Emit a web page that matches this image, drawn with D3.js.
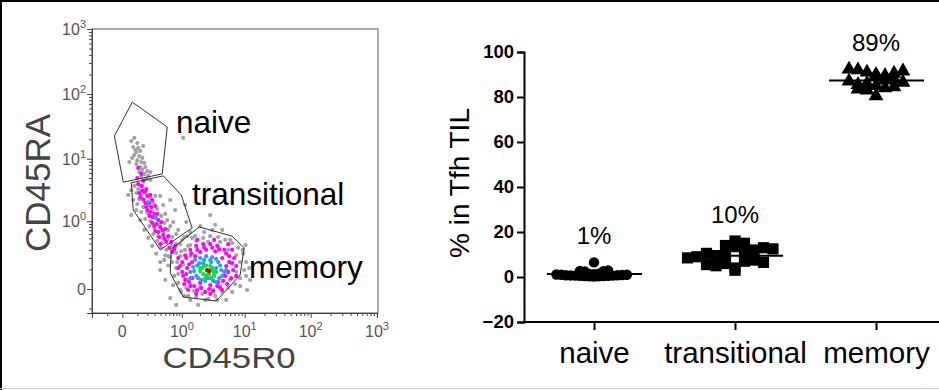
<!DOCTYPE html>
<html>
<head>
<meta charset="utf-8">
<script src="https://cdn.jsdelivr.net/npm/d3@7"></script>
<style>
  body { margin: 0; background: #fff; }
  svg { display: block; font-family: "Liberation Sans", Arial, sans-serif; }
</style>
</head>
<body>
<div id="chart"></div>
<script>
// ---- flow plot data (CD45R0, CD45RA) ----
const grayDots = [
  [0.053,18.8],[0.075,21],[0.099,17.5],[0.067,15.2],[0.107,14.7],[0.091,12.7],[0.126,13.2],[0.075,11.4],
  [0.116,11],[0.145,10.3],[0.099,9.5],[0.135,8.9],[0.166,8.6],[0.091,8.3],[0.126,7.4],[0.177,7.4],
  [0.145,6.7],[0.2,6.4],[0.116,6.2],[0.166,5.8],[0.212,5.4],[0.135,5.2],[0.188,4.8],[0.238,4.65],
  [0.083,13.6],[0.155,15.7],[0.06,10.3],[0.238,6.2],[1.056,21],[0.04,8.9],
  [0.075,3.75],[0.107,3.35],[0.145,3.75],[0.091,2.9],[0.135,2.7],[0.188,3.0],[0.116,2.3],[0.166,2.16],
  [0.238,2.4],[0.099,1.93],[0.155,1.72],[0.212,1.86],[0.28,2.0],[0.135,1.43],[0.2,1.38],[0.265,1.48],
  [0.343,1.6],[0.177,1.09],[0.238,1.01],[0.326,1.14],[0.415,1.23],[0.225,0.83],[0.295,0.77],[0.378,0.87],
  [0.477,0.94],[0.28,0.6],[0.36,0.55],[0.455,0.65],[0.569,0.71],[0.343,0.45],[0.435,0.41],[0.545,0.49],
  [0.675,0.53],[0.415,0.33],[0.521,0.3],[0.647,0.36],[0.797,0.39],[0.499,0.23],[0.62,0.21],[0.797,0.26],
  [0.975,0.28],[1.015,0.47],[1.23,0.55],[0.865,0.71],[0.704,0.97],[0.396,2.6],[0.499,1.33],[1.39,0.65],
  [1.19,0.97],[0.0335,2.7],[0.053,1.27],[0.62,2.24],[0.765,1.54],[1.14,1.86],[1.49,0.51],
  [0.675,0.16],[0.797,0.11],[0.734,0.059],[0.865,0.024],[0.937,-0.0036],[1.1,-0.028],[0.62,-0.038],
  [1.39,-0.047],[1.74,-0.033],[2.18,-0.019],[2.71,-0.042],[3.5,-0.028],[4.5,-0.011],[5.57,0.0036],
  [7.13,0.019],[8.51,0.047],[9.8,0.096],[10.5,0.16],[9.47,0.25],[7.93,0.33],[6.42,0.41],[5.0,0.47],
  [3.89,0.53],[2.92,0.55],[2.26,0.51],[1.74,0.45],[1.39,0.375],[1.14,0.3],[0.937,0.22],[0.865,0.07],
  [1.19,0.0036],[1.61,-0.007],[2.02,0.007],[3.25,-0.0036],[4.18,0.011],[5.97,0.038],[7.4,0.083],
  [8.51,0.16],[7.4,0.23],[5.57,0.3],[1.39,0.22],[1.056,0.14],[1.28,0.038],[11.7,0.11],[12.1,0.038],
  [10.9,-0.0036],[0.797,-0.076],[1.87,-0.076],[5.19,-0.047],[10.3,0.375],[2.34,0.65],[3.14,0.71],
  [2.02,0.83],[2.92,1.27],[3.5,0.87],[4.5,0.71],[0.396,0.096],[0.499,0.038],[0.569,0.13],
  [0.053,3.2],[0.067,2.24],[0.091,1.54],[0.126,1.05],[0.166,0.71],[0.212,0.51],[0.265,0.36],[0.326,0.25],
  [0.396,0.16],[0.477,0.18],[0.569,0.22],[0.31,2.6],[0.455,1.86],[0.545,1.05],[0.62,0.83],[0.797,0.6],
  [0.937,0.39],[1.1,0.53],[1.28,0.36],[0.83,0.16],[0.704,0.015],[0.975,-0.011],[1.28,-0.028],[2.43,-0.047],
  [3.76,-0.047],[6.42,-0.011],[8.51,0.011],[10.5,0.059],[9.28,0.3],[5.97,0.47],[4.18,0.43],[1.67,0.55],
  [2.71,0.43]
];
const magentaDots = [
  [0.107,7.2],[0.135,5.8],[0.099,5.0],[0.155,4.5],
  [0.107,4.0],[0.145,3.2],[0.2,2.6],[0.126,2.5],[0.177,2.0],[0.251,1.72],[0.2,1.54],[0.295,1.33],
  [0.225,1.23],[0.36,1.05],[0.265,0.94],[0.396,0.8],[0.31,0.68],[0.455,0.58],[0.378,0.53],[0.521,0.43],
  [0.594,0.33],[0.734,0.31],[0.166,3.0],[0.265,2.24],[0.326,0.9],[0.499,0.74],
  [0.135,3.75],[0.188,3.35],[0.116,2.9],[0.238,2.7],[0.155,2.3],[0.225,2.0],[0.31,1.79],[0.188,1.72],
  [0.265,1.18],[0.343,1.33],[0.238,1.43],[0.415,0.97],[0.295,0.83],[0.435,0.71],[0.36,0.65],[0.569,0.55],
  [0.477,0.49],[0.647,0.43],[0.396,0.39],[0.765,0.36],[0.675,0.27],
  [1.015,0.16],[1.14,0.23],[1.39,0.3],[1.74,0.36],[2.26,0.39],[2.92,0.39],[3.76,0.36],[4.83,0.3],
  [5.77,0.22],[6.42,0.15],[6.64,0.096],[6.19,0.047],[5.37,0.019],[4.18,0.0036],[3.25,-0.007],
  [2.43,-0.011],[1.81,-0.0036],[1.39,0.011],[1.14,0.038],[1.015,0.083],[1.23,0.11],[1.49,0.16],
  [1.67,0.22],[2.02,0.27],[3.5,0.28],[4.5,0.2],[5.19,0.126],[5.0,0.059],[3.89,0.028],[2.92,0.015],
  [2.02,0.024],[1.49,0.047],[0.865,0.2],[7.4,0.059],[1.28,-0.0036],[2.52,0.3],[3.37,0.47],[1.81,0.47],
  [5.57,0.39],[1.056,0.059],
  [1.19,0.2],[1.33,0.14],[1.19,0.07],[1.33,0.028],[1.61,0.011],[2.1,0.0036],[2.81,0],[3.76,0.011],
  [4.65,0.033],[5.57,0.083],[5.77,0.16],[5.19,0.25],[4.04,0.31],[3.14,0.33],[2.34,0.33],[1.81,0.3],
  [1.44,0.25],[0.937,0.126],[1.1,0.019],[6.89,0.2],[6.42,0.3],[7.4,0.126],[0.865,0.11],[4.5,-0.0036],
  [2.92,-0.019],[1.74,-0.019]
];
const blueDots = [
  [1.67,0.18],[2.02,0.2],[2.52,0.22],[3.14,0.21],[3.89,0.16],[4.34,0.096],[4.04,0.047],[3.25,0.033],
  [2.43,0.033],[1.87,0.047],[1.61,0.089],[1.81,0.13],[2.26,0.15],[3.62,0.11],[2.71,0.047],[1.39,0.083],
  [4.83,0.083],[3.02,0.16],[0.212,2.08],[0.31,1.14],
  [1.95,0.15],[1.55,0.118],[1.74,0.059],[2.1,0.038],[3.62,0.19],[4.18,0.13],[4.5,0.059],[3.62,0.028],
  [2.92,0.18],[2.34,0.18],[1.39,0.047],[5.19,0.096]
];
const greenDots = [
  [2.18,0.11],[2.52,0.13],[2.92,0.126],[3.25,0.089],[2.81,0.07],[2.26,0.07],[2.61,0.096],[3.37,0.059],
  [2.02,0.089],[3.02,0.047],[2.43,0.047],[3.62,0.083],
  [2.34,0.126],[3.14,0.11],[2.71,0.083],[2.52,0.059],[2.02,0.11],[3.37,0.076],[2.92,0.096]
];
const redDots = [[2.61,0.096],[2.81,0.089]];

const gateNames = ["naive", "transitional", "memory"];
const naiveGate = [[0.06,75],[0.545,31],[0.435,5.8],[0.005,4.3],[-0.046,22.5]];
const transitionalGate = [[0.053,4.2],[0.455,5.4],[0.975,2.7],[1.49,0.77],[0.396,0.3],[0.067,1.54]];
const memoryGate = [[1.95,0.8],[6.42,0.55],[9.8,0.33],[8.51,0.064],[3.62,-0.053],[1.056,-0.033],[0.62,0.076],[0.647,0.31]];

const flowMajorTicks = [0, 1, 10, 100, 1000];
const flowTickExp = ["", "0", "1", "2", "3"];

// ---- percentage plot data ----
const categories = ["naive", "transitional", "memory"];
const naiveValues = [0.2,0.3,0.3,0.4,0.4,0.5,0.5,0.6,0.6,0.7,0.8,0.8,0.9,1.0,1.0,1.1,1.2,1.3,1.5,2.5,2.6,2.7,2.9,6.5];
const transitionalValues = [16,14,15,13.5, 10,11,9.5,12,10.5,13,9,12.5,8.5, 4,6,3,7,5,7.5,5.5,6.5];
const memoryValues = [90,91,89.5,92,90.5,92.3,89,91.5, 86,87.5,85.5,88,87,85,86.5, 83,84,83.5,84.5, 80.5];
const meanLabels = ["1%", "10%", "89%"];
const pctTicks = [-20, 0, 20, 40, 60, 80, 100];

const W = 939, H = 390;
const svg = d3.select("#chart").append("svg").attr("width", W).attr("height", H);

// outer frame bits
svg.append("line").attr("x1", 0).attr("x2", W).attr("y1", 1).attr("y2", 1).attr("stroke", "#000").attr("stroke-width", 2);
svg.append("line").attr("x1", 1).attr("x2", 1).attr("y1", 0).attr("y2", H).attr("stroke", "#000").attr("stroke-width", 2);
svg.append("line").attr("x1", 0).attr("x2", W).attr("y1", 388.5).attr("y2", 388.5).attr("stroke", "#ccc").attr("stroke-width", 1);

// ===== left: flow plot =====
const x = d3.scaleSymlog().constant(0.145).domain([-0.27, 1000]).range([92, 377]);
const y = d3.scaleSymlog().constant(0.1).domain([-0.134, 1000]).range([313, 29]);

const flow = svg.append("g");
flow.append("rect")
  .attr("x", x.range()[0]).attr("y", y.range()[1])
  .attr("width", 378 - x.range()[0]).attr("height", y.range()[0] - y.range()[1])
  .attr("fill", "none").attr("stroke", "#555").attr("stroke-width", 1);

const minorTicks = [];
[-1, 0, 1, 2].forEach(p => { for (let k = 2; k <= 9; k++) minorTicks.push(k * Math.pow(10, p)); });
minorTicks.push(0.1, -0.1);

const xAxis = flow.append("g").attr("transform", `translate(0,${y.range()[0]})`)
  .call(d3.axisBottom(x).tickValues(flowMajorTicks).tickSize(5).tickFormat(""));
xAxis.append("g").call(d3.axisBottom(x).tickValues(minorTicks).tickSize(3).tickFormat(""))
  .select(".domain").remove();
const yAxis = flow.append("g").attr("transform", `translate(${x.range()[0]},0)`)
  .call(d3.axisLeft(y).tickValues(flowMajorTicks).tickSize(5).tickFormat(""));
yAxis.append("g").call(d3.axisLeft(y).tickValues(minorTicks.filter(v => v > -0.13)).tickSize(3).tickFormat(""))
  .select(".domain").remove();
flow.selectAll(".domain, .tick line").attr("stroke", "#444");

function flowLabel(g, i) {
  if (flowTickExp[i] === "") { g.text("0"); return; }
  g.append("tspan").text("10");
  g.append("tspan").attr("dy", -7).attr("font-size", 11).text(flowTickExp[i]);
}
flowMajorTicks.forEach((v, i) => {
  const t = flow.append("text").attr("x", x(v)).attr("y", 337)
    .attr("text-anchor", "middle").attr("font-size", 16).attr("fill", "#555");
  flowLabel(t, i);
  const u = flow.append("text").attr("x", 86).attr("y", y(v) + 6)
    .attr("text-anchor", "end").attr("font-size", 16).attr("fill", "#555");
  flowLabel(u, i);
});

const line = d3.line().x(d => x(d[0])).y(d => y(d[1]));
const dotColors = [[grayDots, "#a3a3a3"], [magentaDots, "#ff00ff"], [blueDots, "#2b9cf2"], [greenDots, "#00e640"], [redDots, "#d40000"]];
dotColors.forEach(([pts, col]) => {
  flow.append("g").selectAll("circle").data(pts).join("circle")
    .attr("cx", d => x(d[0])).attr("cy", d => y(d[1])).attr("r", 2.1).attr("fill", col);
});

[naiveGate, transitionalGate, memoryGate].forEach(g => {
  flow.append("path").attr("d", line(g) + "Z").attr("fill", "none").attr("stroke", "#333").attr("stroke-width", 1);
});

const gateLabelPos = [[176, 133], [192, 205], [249, 278]];
gateNames.forEach((n, i) => {
  flow.append("text").attr("x", gateLabelPos[i][0]).attr("y", gateLabelPos[i][1])
    .attr("font-size", 31.5).attr("fill", "#000").text(n);
});

flow.append("text").attr("transform", "translate(50,183) rotate(-90)")
  .attr("text-anchor", "middle").attr("font-size", 35).attr("fill", "#444").text("CD45RA");
flow.append("text").attr("x", 229).attr("y", 368)
  .attr("text-anchor", "middle").attr("font-size", 30).attr("fill", "#444")
  .attr("textLength", 133).attr("lengthAdjust", "spacingAndGlyphs").text("CD45R0");

// ===== right: percentage plot =====
const yP = d3.scaleLinear().domain([-20, 100]).range([322, 52]);
const xC = d3.scalePoint().domain(categories).range([594, 876]);
const pct = svg.append("g");

const yAx = pct.append("g").attr("transform", "translate(524,0)")
  .call(d3.axisLeft(yP).tickValues(pctTicks).tickSize(7).tickPadding(3));
yAx.selectAll("text").attr("font-size", 18.5).attr("font-weight", "bold").attr("fill", "#000")
  .attr("font-family", "Liberation Sans, Arial, sans-serif");
yAx.select(".domain").attr("stroke-width", 2);
yAx.selectAll(".tick line").attr("stroke-width", 2);

const xAx = pct.append("g").attr("transform", `translate(0,${yP.range()[0]})`)
  .call(d3.axisBottom(xC).tickSize(8).tickPadding(12));
xAx.select(".domain").remove();
xAx.selectAll(".tick line").attr("stroke-width", 2);
xAx.selectAll("text").attr("font-size", 29.5).attr("fill", "#000").attr("dy", "0.72em")
  .attr("font-family", "Liberation Sans, Arial, sans-serif");
pct.append("line").attr("x1", 523).attr("x2", W).attr("y1", yP.range()[0]).attr("y2", yP.range()[0])
  .attr("stroke", "#000").attr("stroke-width", 2);

pct.append("text").attr("transform", "translate(469,183) rotate(-90)")
  .attr("text-anchor", "middle").attr("font-size", 28).text("% in Tfh TIL");

// column scatter: points in the same value bin sit side by side (data order kept)
function columnScatter(values, binPx, spacing) {
  const bins = d3.group(values, v => Math.round(yP(v) / binPx));
  const out = [];
  for (const vals of bins.values()) {
    vals.forEach((v, i) => {
      const j = i % 2 === 0 ? i / 2 : -(i + 1) / 2;
      out.push({ v, dx: j * spacing });
    });
  }
  return out;
}

const groups = [naiveValues, transitionalValues, memoryValues];
const sym = [d3.symbolCircle, d3.symbolSquare, d3.symbolTriangle];
const symSize = [85, 125, 95];
const bin = [9, 12, 9];
const spacing = [4.7, 9.5, 9];

groups.forEach((vals, gi) => {
  const cx = xC(categories[gi]);
  const pts = columnScatter(vals, bin[gi], spacing[gi]);
  pct.append("g").selectAll("path").data(pts).join("path")
    .attr("transform", d => `translate(${cx + d.dx},${yP(d.v)})`)
    .attr("d", d3.symbol(sym[gi], symSize[gi])).attr("fill", "#000");
  const m = d3.mean(vals);
  pct.append("line").attr("x1", cx - 47).attr("x2", cx + 48).attr("y1", yP(m)).attr("y2", yP(m))
    .attr("stroke", "#000").attr("stroke-width", 2);
  pct.append("text").attr("x", cx).attr("y", yP(d3.max(vals)) - 18)
    .attr("text-anchor", "middle").attr("font-size", 24).text(meanLabels[gi]);
});
</script>
</body>
</html>
